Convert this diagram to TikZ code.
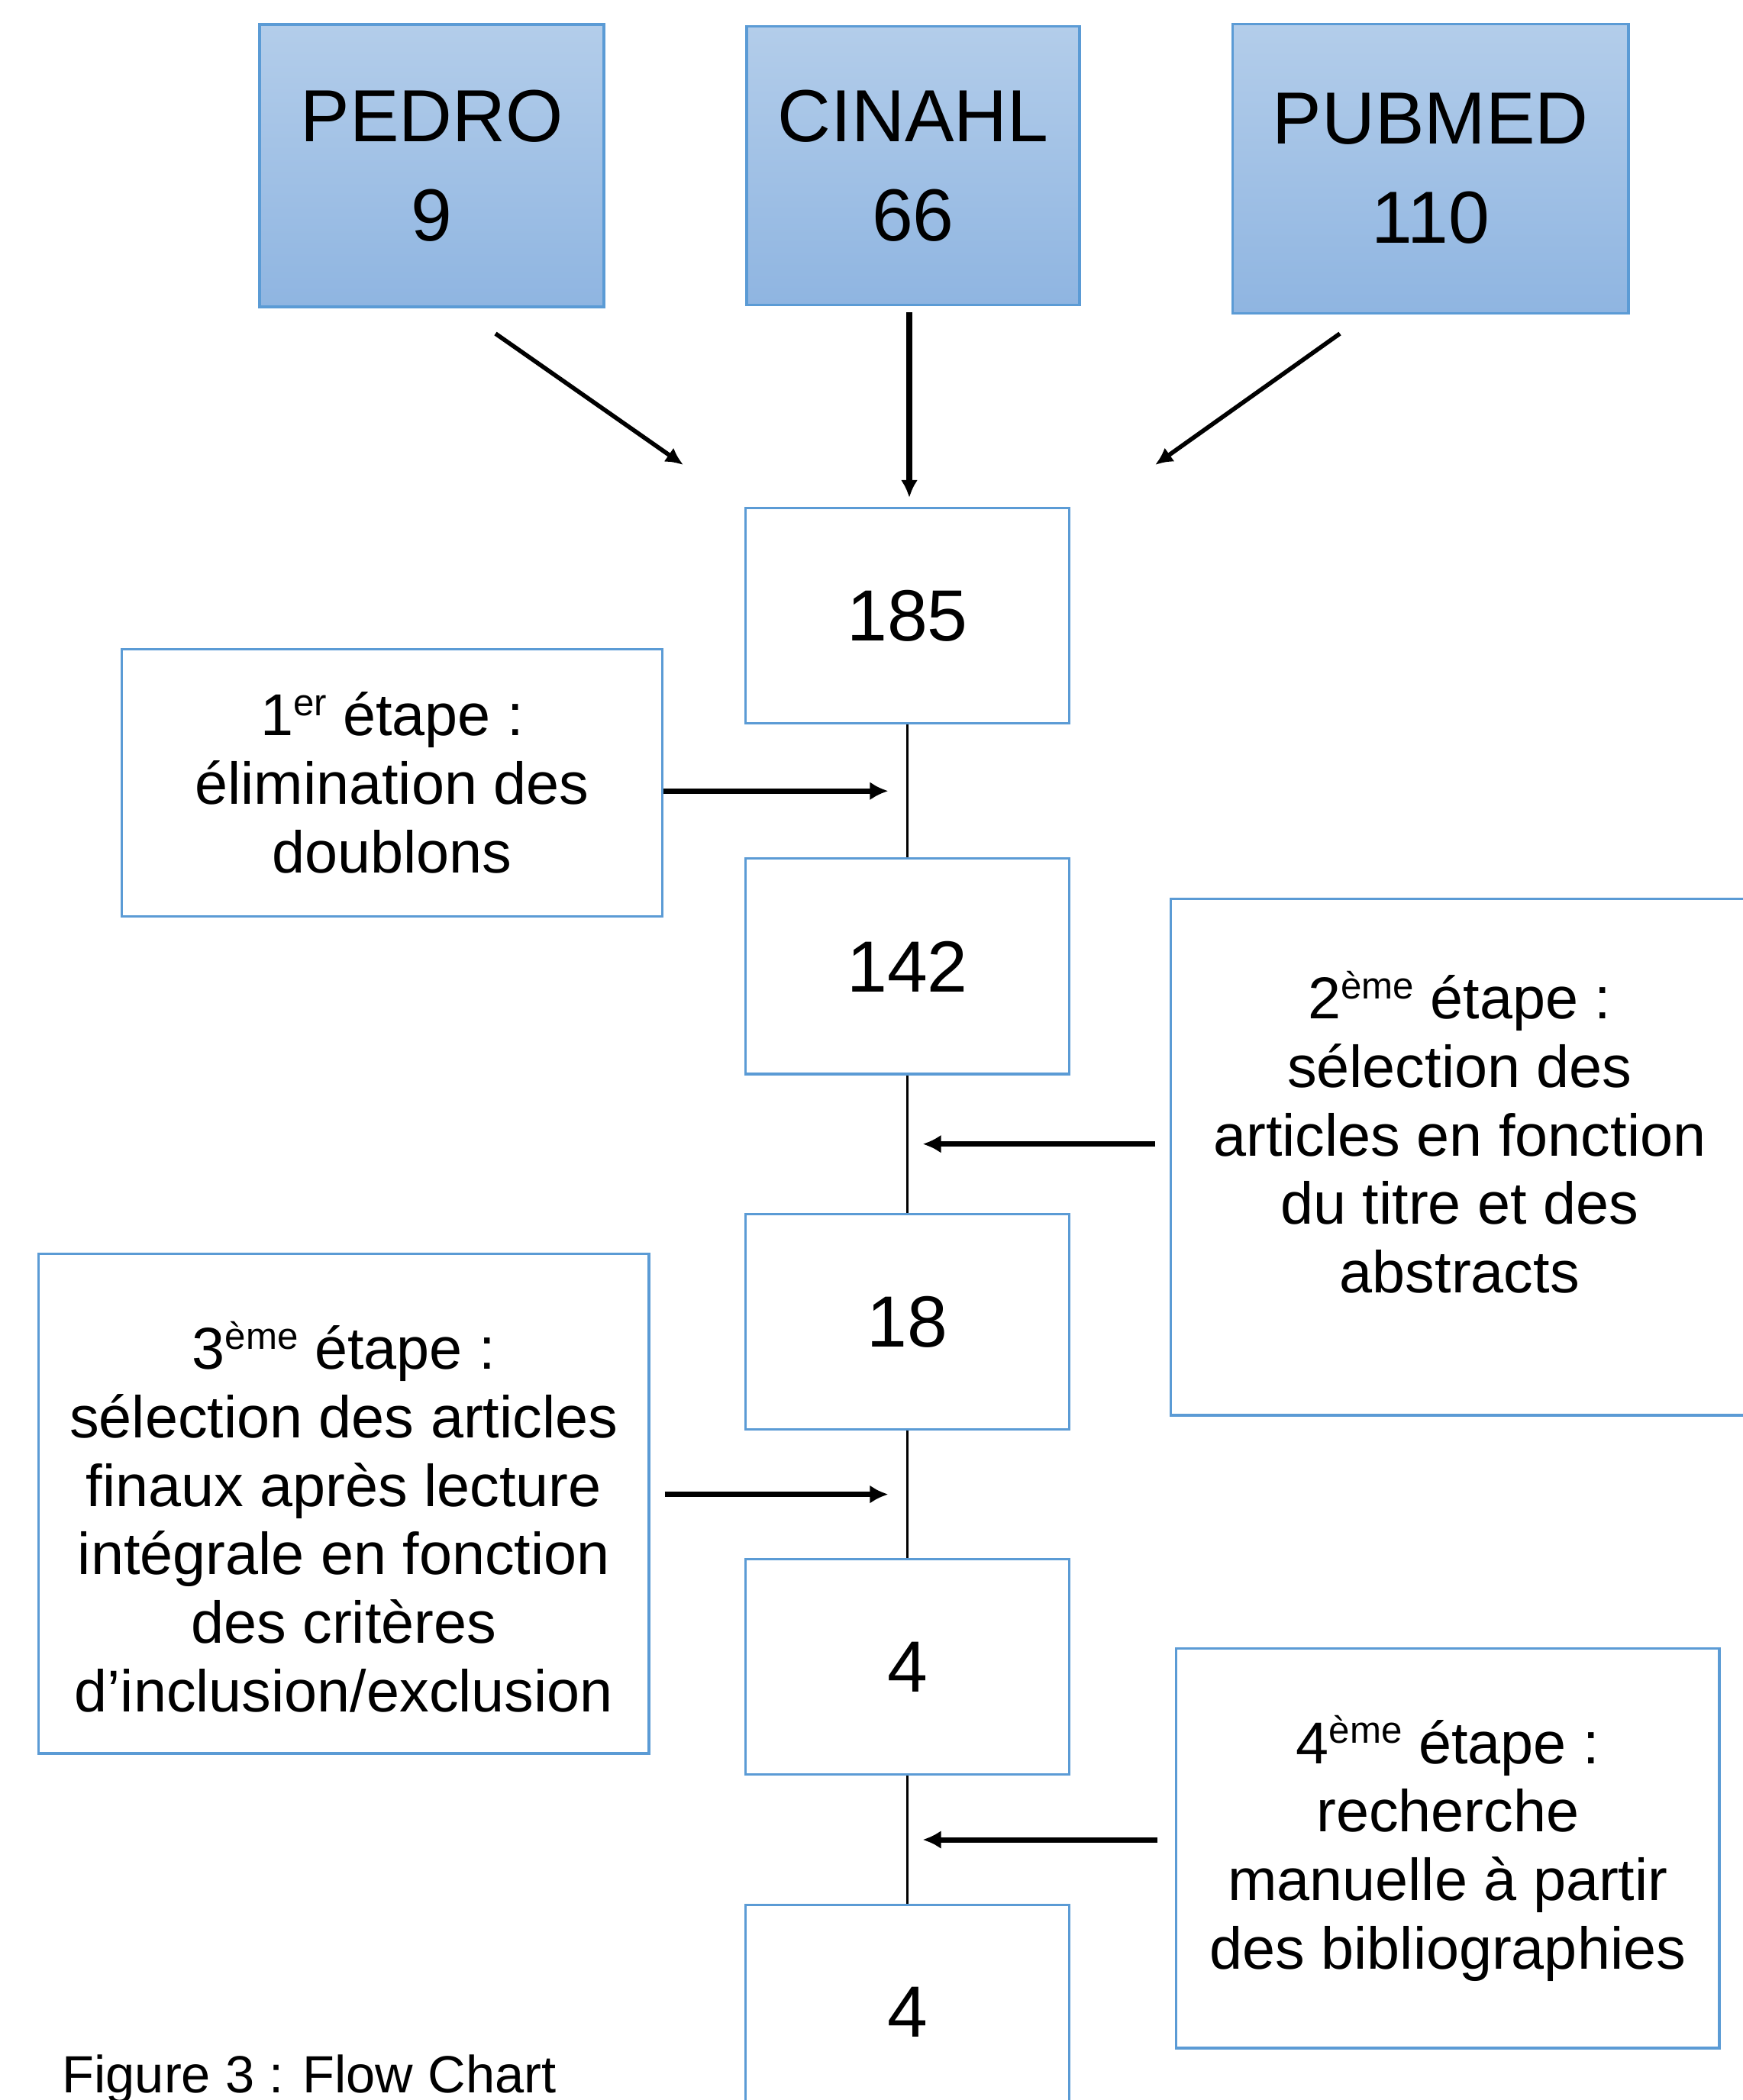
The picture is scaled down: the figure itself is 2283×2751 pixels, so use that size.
\documentclass[tikz,border=0pt]{standalone}
\usepackage{fontspec}
\setmainfont{Liberation Sans}
\usetikzlibrary{arrows.meta,positioning,calc}
\definecolor{FlowBlue}{HTML}{5B9BD5}
\definecolor{FlowTop}{HTML}{B3CDEA}
\definecolor{FlowBottom}{HTML}{8FB5E1}
\newcommand{\expo}[1]{\raisebox{0.34em}{\fontsize{14}{14}\selectfont #1}}

\begin{document}
\begin{tikzpicture}[x=0.01cm,y=0.01cm,
  dbbox/.style={draw=FlowBlue,line width=1pt,top color=FlowTop,bottom color=FlowBottom,align=center,font=\fontsize{27.5}{37}\selectfont},
  countbox/.style={draw=FlowBlue,line width=0.9pt,minimum width=4.23cm,minimum height=2.82cm,font=\fontsize{27}{32}\selectfont},
  stepbox/.style={draw=FlowBlue,line width=0.9pt,align=center,font=\fontsize{22}{25.5}\selectfont},
  link/.style={line width=1.1pt},
  feed/.style={-{Latex[length=2.3mm,width=2.2mm]},line width=1.6pt},
  arr/.style={-{Latex[length=2.4mm,width=2.4mm]},line width=2pt},
]
\useasboundingbox (0,0) rectangle (2283,-2751);
\clip (0,0) rectangle (2283,-2751);

% databases
\node[dbbox,minimum width=4.51cm,minimum height=3.70cm] (pedro) at (565.5,-217) {PEDRO\\9};
\node[dbbox,minimum width=4.36cm,minimum height=3.65cm,right=1.83cm of pedro] (cinahl) {CINAHL\\66};
\node[dbbox,minimum width=5.18cm,minimum height=3.79cm,right=1.97cm of cinahl,yshift=-0.04cm] (pubmed) {PUBMED\\110};

% counts
\node[countbox] (n185) at (1188.5,-806.5) {185};
\node[countbox,below=1.74cm of n185] (n142) {142};
\node[countbox,below=1.80cm of n142] (n18) {18};
\node[countbox,below=1.67cm of n18] (n4) {4};
\node[countbox,below=1.67cm of n4] (n4b) {4};

\coordinate (pedroOut) at (649,-437);
\coordinate (pedroIn) at (895,-609);
\coordinate (cinahlOut) at (1191,-409);
\coordinate (cinahlIn) at (1191,-652);
\coordinate (pubmedOut) at (1755,-437);
\coordinate (pubmedIn) at (1513,-609);
\draw[feed] (pedroOut) -- (pedroIn);
\draw[feed,line width=2pt] (cinahlOut) -- (cinahlIn);
\draw[feed] (pubmedOut) -- (pubmedIn);

\draw[link] (n185) -- coordinate[midway] (m1) (n142);
\draw[link] (n142) -- coordinate[midway] (m2) (n18);
\draw[link] (n18) -- coordinate[midway] (m3) (n4);
\draw[link] (n4) -- coordinate[midway] (m4) (n4b);

% steps
\node[stepbox,minimum width=7.07cm,minimum height=3.49cm] (step1) at (513.5,-1025.5) {1\expo{er} étape :\\élimination des\\doublons};
\node[stepbox,minimum width=7.56cm,minimum height=6.76cm,anchor=north west] (step2) at (1532,-1176) {2\expo{ème} étape :\\sélection des\\articles en fonction\\du titre et des\\abstracts\rule[-0.66cm]{0pt}{0pt}};
\node[stepbox,minimum width=7.99cm,minimum height=6.54cm,anchor=north west] (step3) at (49,-1641) {\rule{0pt}{0.97cm}3\expo{ème} étape :\\sélection des articles\\finaux après lecture\\intégrale en fonction\\des critères\\d’inclusion/exclusion};
\node[stepbox,minimum width=7.11cm,minimum height=5.23cm,anchor=north west] (step4) at (1539,-2158) {4\expo{ème} étape :\\recherche\\manuelle à partir\\des bibliographies};

\draw[arr,shorten >=2.5mm] (step1.east |- m1) -- (m1);
\draw[arr,shorten <=1.9mm,shorten >=2mm] (step2.west |- m2) -- (m2);
\draw[arr,shorten <=1.9mm,shorten >=2.5mm] (step3.east |- m3) -- (m3);
\draw[arr,shorten <=2.3mm,shorten >=2mm] (step4.west |- m4) -- (m4);

\node[anchor=base west,inner sep=0pt,font=\fontsize{19.5}{23}\selectfont] (caption) at (81,-2741) {Figure 3 : Flow Chart};
\end{tikzpicture}
\end{document}
